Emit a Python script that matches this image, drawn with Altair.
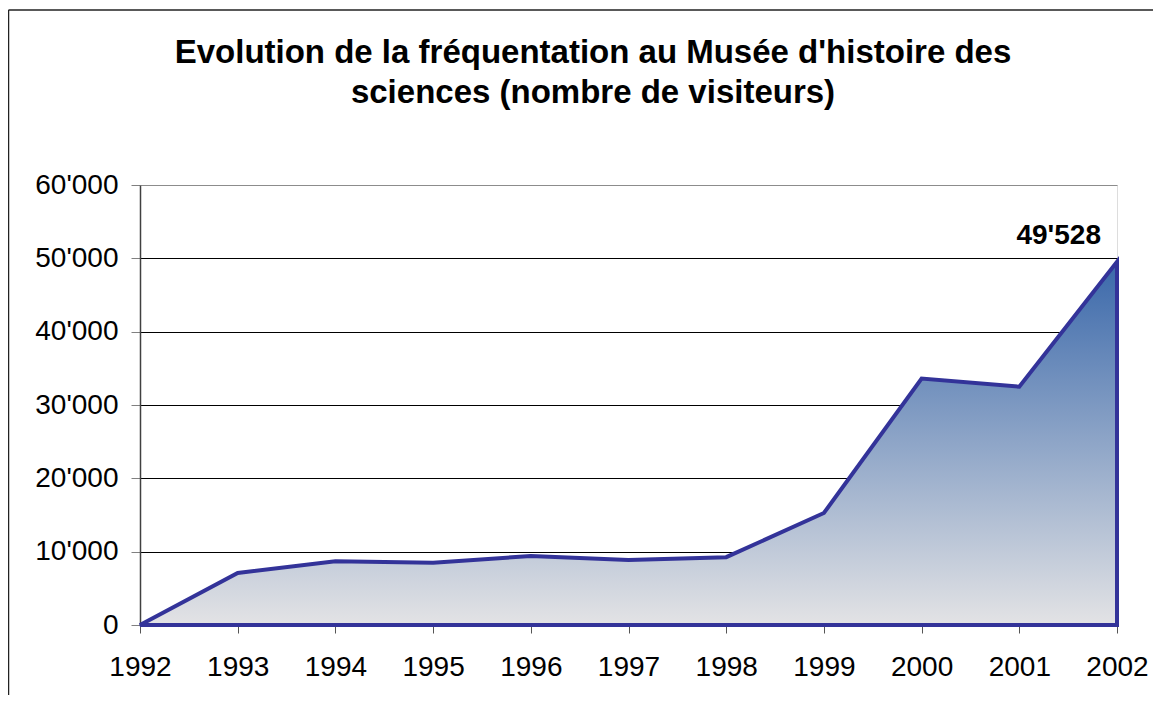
import altair as alt
import pandas as pd

years = [1992, 1993, 1994, 1995, 1996, 1997, 1998, 1999, 2000, 2001, 2002]
visitors = [0, 7100, 8700, 8500, 9400, 8850, 9250, 15270, 33600, 32500, 49528]
y_ticks = [0, 10000, 20000, 30000, 40000, 50000, 60000]
title_lines = ["Evolution de la fréquentation au Musée d'histoire des",
               "sciences (nombre de visiteurs)"]

df = pd.DataFrame({"year": years, "visitors": visitors})
last = df.tail(1)

FONT = "Liberation Sans"
label_expr = "replace(format(datum.value, ','), ',', \"'\")"

x = alt.X("year:Q", scale=alt.Scale(domain=[years[0], years[-1]], nice=False, zero=False),
          axis=alt.Axis(values=years, format="d", title=None, grid=False, domain=False,
                        tickColor="#555555", tickSize=8, labelFontSize=28, labelColor="black",
                        labelPadding=20, labelFont=FONT, labelFlush=False, labelOverlap=False))
y = alt.Y("visitors:Q", scale=alt.Scale(domain=[0, 60000], nice=False),
          axis=alt.Axis(values=y_ticks, labelExpr=label_expr, title=None, grid=True,
                        gridColor={"condition": {"test": "datum.value >= 60000", "value": "#8c8c8c"},
                                   "value": "#000000"},
                        gridWidth=1, domainColor="#404040", domainWidth=1.5,
                        tickColor="#808080", tickSize=9, labelFontSize=28, labelColor="black",
                        labelPadding=13, labelFont=FONT, labelFlush=False))

gradient = alt.Gradient(gradient="linear",
                        stops=[alt.GradientStop(color="#3a68aa", offset=0),
                               alt.GradientStop(color="#e3e3e5", offset=1)],
                        x1=0, x2=0, y1=0, y2=1)

area = alt.Chart(df).mark_area(color=gradient, stroke="#333399", strokeWidth=4,
                               strokeJoin="miter").encode(x=x, y=y)

label = alt.Chart(last).transform_calculate(
    lab="replace(format(datum.visitors, ','), ',', \"'\")"
).mark_text(align="right", baseline="middle", dx=-16, dy=-26, fontSize=28,
            fontWeight="bold", font=FONT, color="black").encode(
    x="year:Q", y="visitors:Q", text="lab:N")

frame_df = pd.DataFrame({"k": [0]})
frame_left = alt.Chart(frame_df).mark_rule(color="#222222", strokeWidth=1.5).encode(
    x=alt.value(-131.5), y=alt.value(-175), y2=alt.value(600))
frame_top = alt.Chart(frame_df).mark_rule(color="#222222", strokeWidth=1.5).encode(
    x=alt.value(-131.5), x2=alt.value(1100), y=alt.value(-175))

title = alt.Chart(frame_df).mark_text(
    text=title_lines, fontSize=33, fontWeight="bold", font=FONT, color="black",
    align="center", baseline="alphabetic", lineHeight=40
).encode(x=alt.value(453), y=alt.value(-122))

chart = alt.layer(area, label, frame_left, frame_top, title).properties(
    width=977, height=440,
    autosize=alt.AutoSizeParams(type="none"),
    padding={"left": 132, "top": 177, "right": 36, "bottom": 70},
).configure_view(stroke="#8c8c8c", strokeWidth=1).configure(font=FONT, background="white")

chart.save("out.html", embed_options={"renderer": "svg", "actions": False})
